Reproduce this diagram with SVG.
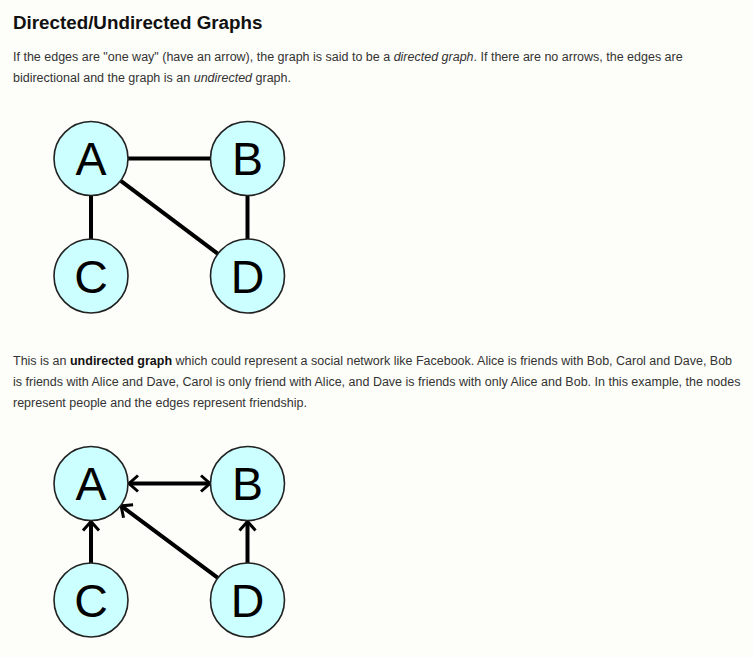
<svg xmlns="http://www.w3.org/2000/svg" width="753" height="657" viewBox="0 0 753 657">
<style>
.bg{fill:#fdfdf9}
.title{font-family:"Liberation Sans",Arial,sans-serif;font-weight:bold;font-size:18.8px;fill:#111}
.p{font-family:"Liberation Sans",Arial,sans-serif;font-size:12.5px;fill:#333}
.p .i{font-style:italic}
.p .b{font-weight:bold;fill:#111}
.node circle{fill:#ccffff;stroke:#222;stroke-width:1.6}
.node text{font-family:"Liberation Sans",Arial,sans-serif;font-size:46.5px;fill:#000;text-anchor:middle}
.edge{stroke:#000;stroke-width:4;fill:none}
</style>
<defs>
<marker id="chev" markerUnits="userSpaceOnUse" markerWidth="20" markerHeight="20" refX="0" refY="0" orient="auto-start-reverse" overflow="visible">
<path d="M-9,-8 L0,0 L-9,8" fill="none" stroke="#000" stroke-width="3"/>
</marker>
</defs>
<rect class="bg" x="0" y="0" width="753" height="657"/>
<text class="title" x="13" y="29">Directed/Undirected Graphs</text>
<text class="p" x="13" y="61">If the edges are "one way" (have an arrow), the graph is said to be a <tspan class="i">directed graph</tspan>. If there are no arrows, the edges are</text>
<text class="p" x="13" y="82">bidirectional and the graph is an <tspan class="i">undirected</tspan> graph.</text>
<text class="p" x="13" y="365">This is an <tspan class="b">undirected graph</tspan> which could represent a social network like Facebook. Alice is friends with Bob, Carol and Dave, Bob</text>
<text class="p" x="13" y="386">is friends with Alice and Dave, Carol is only friend with Alice, and Dave is friends with only Alice and Bob. In this example, the nodes</text>
<text class="p" x="13" y="407">represent people and the edges represent friendship.</text>

<g id="connectors1">
<line class="edge" x1="127" y1="158.5" x2="211" y2="158.5"/>
<line class="edge" x1="91" y1="195" x2="91" y2="240"/>
<line class="edge" x1="247.5" y1="195" x2="247.5" y2="240"/>
<line class="edge" x1="120.5" y1="180.6" x2="218.3" y2="254.2"/>
</g>
<g id="graph1-A" class="node"><circle cx="91" cy="158.5" r="37"/><text x="91" y="175">A</text></g>
<g id="graph1-B" class="node"><circle cx="247.5" cy="158.5" r="37"/><text x="247.5" y="175">B</text></g>
<g id="graph1-C" class="node"><circle cx="91" cy="276" r="37"/><text x="91" y="292.5">C</text></g>
<g id="graph1-D" class="node"><circle cx="247.5" cy="276" r="37"/><text x="247.5" y="292.5">D</text></g>

<g id="connectors2">
<line class="edge" x1="129" y1="483.5" x2="210" y2="483.5" marker-start="url(#chev)" marker-end="url(#chev)"/>
<line class="edge" x1="91" y1="563.5" x2="91" y2="521.5" marker-end="url(#chev)"/>
<line class="edge" x1="247.5" y1="563.5" x2="247.5" y2="521.5" marker-end="url(#chev)"/>
<line class="edge" x1="218.2" y1="578.2" x2="121.1" y2="505.9" marker-end="url(#chev)"/>
</g>
<g id="graph2-A" class="node"><circle cx="91" cy="483.5" r="37"/><text x="91" y="500">A</text></g>
<g id="graph2-B" class="node"><circle cx="247.5" cy="483.5" r="37"/><text x="247.5" y="500">B</text></g>
<g id="graph2-C" class="node"><circle cx="91" cy="600" r="37"/><text x="91" y="616.5">C</text></g>
<g id="graph2-D" class="node"><circle cx="247.5" cy="600" r="37"/><text x="247.5" y="616.5">D</text></g>
</svg>
